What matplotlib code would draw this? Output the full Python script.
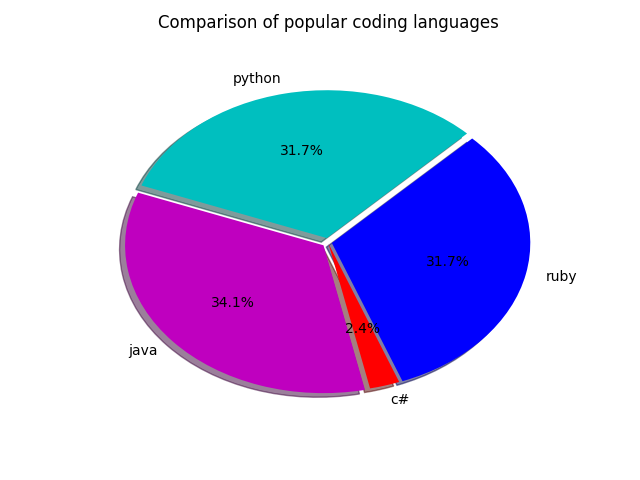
import matplotlib
matplotlib.use("Agg")
import matplotlib.pyplot as plt

languages = ['python', 'java', 'c#', 'ruby']
counts = [13, 14, 1, 13]
colors = ['c', 'm', 'r', 'b']
explode = (0.03, 0.03, 0.01, 0.02)

fig = plt.figure(figsize=(6.4, 4.8), dpi=100)
ax = fig.add_subplot(111)
ax.pie(counts, labels=languages, colors=colors, startangle=45, shadow=True,
       explode=explode, autopct='%1.1f%%')
ax.set_aspect('auto')
ax.set_xlim(-1.25, 1.25)
ax.set_ylim(-1.25, 1.25)
ax.set_title('Comparison of popular coding languages', pad=21)
fig.savefig('out.png')
